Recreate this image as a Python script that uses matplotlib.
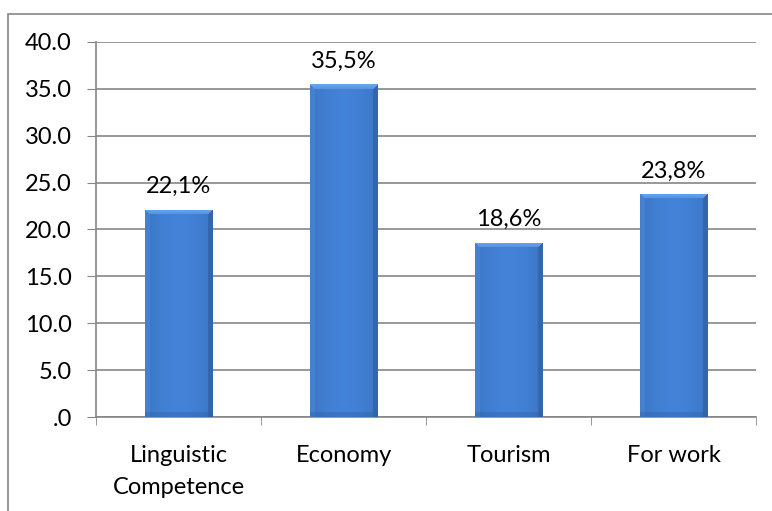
import matplotlib.pyplot as plt
import numpy as np
from matplotlib.patches import Rectangle
from matplotlib.colors import to_rgb

categories = ['Linguistic\nCompetence', 'Economy', 'Tourism', 'For work']
values = [22.1, 35.5, 18.6, 23.8]
labels = ['22,1%', '35,5%', '18,6%', '23,8%']
yticks = [0, 5, 10, 15, 20, 25, 30, 35, 40]
ytick_labels = ['.0', '5.0', '10.0', '15.0', '20.0', '25.0', '30.0', '35.0', '40.0']

plt.rcParams['font.family'] = ['Lato', 'DejaVu Sans']
GRID = '#868686'
FS = 17

fig = plt.figure(figsize=(7.72, 5.11), dpi=100)
ax = fig.add_axes([96 / 772, 94 / 511, 660 / 772, 375 / 511])

# outer chart border
fig.patches.append(Rectangle((7.5 / 772, -0.05), 1.0, 1 - 13.5 / 511 + 0.05,
                             transform=fig.transFigure, fill=False,
                             edgecolor=GRID, lw=1.2, zorder=0))

x = np.arange(len(categories))
width = 0.41
bars = ax.bar(x, values, width, color='#3f7bcc', zorder=2)


def bevel_image(w_px, h_px, bev=5):
    # shaded face with lighter top and darker right/bottom edges
    base = np.array(to_rgb('#3f7bcc'))
    light = np.array(to_rgb('#6aa6ee'))
    dark = np.array(to_rgb('#2d5c9c'))
    img = np.tile(base, (h_px, w_px, 1))
    u = np.linspace(0, 1, w_px)
    shade = 0.10 * np.sin(np.pi * u) - 0.04
    img = img * (1 + shade[None, :, None])
    img[:, :bev] = img[:, :bev] * 0.7 + light * 0.2 + base * 0.1
    img[:, -bev:] = img[:, -bev:] * 0.4 + dark * 0.6
    img[-bev:, :] = img[-bev:, :] * 0.65 + dark * 0.35
    for i in range(bev):
        img[i, i:w_px - i] = light * (1 - i / (2 * bev)) + base * (i / (2 * bev))
    return np.clip(img, 0, 1)


ppu = 375 / 40
for b, v in zip(bars, values):
    w_px = int(round(b.get_width() * 165))
    h_px = max(int(round(v * ppu)), 6)
    im = ax.imshow(bevel_image(w_px, h_px),
                   extent=[b.get_x(), b.get_x() + b.get_width(), 0, v],
                   aspect='auto', zorder=3, interpolation='bilinear')
    im.set_clip_path(b)

for xi, v, lab in zip(x, values, labels):
    ax.annotate(lab, (xi, v), xytext=(0, 9), textcoords='offset points',
                ha='center', va='bottom', fontsize=FS)

ax.set_xlim(-0.5, len(categories) - 0.5)
ax.set_ylim(0, 40)
ax.set_yticks(yticks)
ax.set_yticklabels(ytick_labels, fontsize=FS)
ax.set_xticks(x)
ax.set_xticklabels(categories, fontsize=FS, linespacing=1.65)
ax.set_xticks(np.arange(len(categories) + 1) - 0.5, minor=True)
ax.tick_params(axis='x', which='major', length=0, pad=20)
ax.tick_params(axis='x', which='minor', length=5.5, color=GRID, direction='out')
ax.tick_params(axis='y', length=6.5, color=GRID, pad=11)
ax.yaxis.grid(True, color=GRID, lw=1.2)
ax.set_axisbelow(True)
for s in ['top', 'right']:
    ax.spines[s].set_visible(False)
for s in ['left', 'bottom']:
    ax.spines[s].set_color(GRID)
    ax.spines[s].set_linewidth(1.2)

fig.savefig('out.png', dpi=100)
